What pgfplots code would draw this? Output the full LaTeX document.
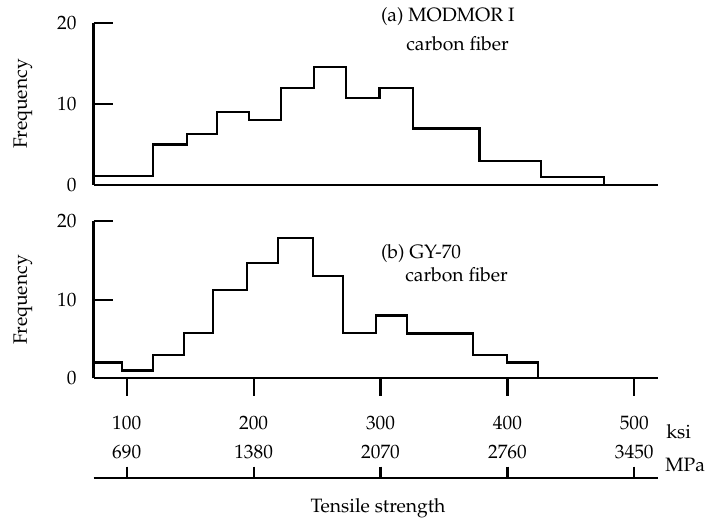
\documentclass[border=0pt]{standalone}
\usepackage[T1]{fontenc}
\usepackage{mathpazo}
\usepackage{pgfplots}
\pgfplotsset{compat=1.18}
\begin{document}
\fontsize{11.6pt}{14pt}\selectfont
\begin{tikzpicture}[x=0.6pt,y=0.6pt]
\path[use as bounding box] (0,0) rectangle (705,522);
\pgfplotsset{
  histax/.style={scale only axis, width=338.5pt, xmin=73.8, xmax=518.4,
    ymin=0, ymax=20, clip=false,
    axis x line=bottom, axis y line=left,
    x axis line style={-, line width=1.35pt},
    y axis line style={-, line width=1.35pt},
    xtick=\empty, ytick={0,10,20}, tick align=inside,
    major tick length=11.6pt,
    tick style={line width=1.35pt, black},
    yticklabel style={inner sep=0pt, xshift=-10pt},
  },
  steps/.style={const plot, line width=1.35pt, black, no marks},
}
% top panel
\begin{axis}[histax, height=97.0pt, at={(56.1pt,202.2pt)}, anchor=south west]
\addplot[steps] coordinates {
 (73.8,1.1) (120.5,5) (147.3,6.3) (171.2,9) (196.1,8) (221.6,12)
 (247.4,14.6) (272.6,10.8) (299.1,12) (325.4,7) (377.9,3) (426.7,1) (476.4,0)};
\end{axis}
% bottom panel
\begin{axis}[histax, height=94.4pt, at={(56.1pt,86.2pt)}, anchor=south west]
\addplot[steps] coordinates {
 (73.8,2) (96.3,1) (120.5,3) (145.4,5.8) (168.2,11.2) (194.6,14.7)
 (219,17.8) (246.6,13) (270.2,5.8) (296.5,8) (321.1,5.7) (373.1,3)
 (399.4,2) (424.3,0)};
\end{axis}
% ksi ticks hanging below bottom panel
\begin{axis}[scale only axis, width=338.5pt, height=94.4pt, at={(56.1pt,86.2pt)}, anchor=south west,
  xmin=73.8, xmax=518.4, ymin=0, ymax=20, hide y axis,
  axis x line=bottom, x axis line style={-, line width=1.35pt},
  xtick={100,200,300,400,500}, tick align=outside, major tick length=10.6pt,
  tick style={line width=1.35pt, black},
  xticklabel style={inner sep=0pt, yshift=-11.8pt}]
\end{axis}
% MPa axis
\begin{axis}[scale only axis, width=338.5pt, height=1pt, at={(56.1pt,26.6pt)}, anchor=north west,
  xmin=73.8, xmax=518.4, ymin=0, ymax=1, hide y axis,
  axis x line=top, x axis line style={-, line width=1.35pt},
  xtick={100,200,300,400,500}, xticklabels={690,1380,2070,2760,3450},
  tick align=outside, major tick length=6.6pt,
  tick style={line width=1.35pt, black},
  xticklabel style={inner sep=0pt, yshift=4.4pt}]
\end{axis}
\node[rotate=90, inner sep=0pt] at (23,418) {Frequency};
\node[rotate=90, inner sep=0pt] at (23,222) {Frequency};
\node[anchor=west, inner sep=0pt] at (380.7,505.3) {(a) MODMOR I};
\node[anchor=west, inner sep=0pt] at (406,478.7) {carbon fiber};
\node[anchor=west, inner sep=0pt] at (380.7,268.7) {(b) GY-70};
\node[anchor=west, inner sep=0pt] at (405,247) {carbon fiber};
\node[anchor=west, inner sep=0pt] at (666,90.3) {ksi};
\node[anchor=west, inner sep=0pt] at (665,57) {MPa};
\node[inner sep=0pt] at (378,13.7) {Tensile strength};
\end{tikzpicture}
\end{document}
